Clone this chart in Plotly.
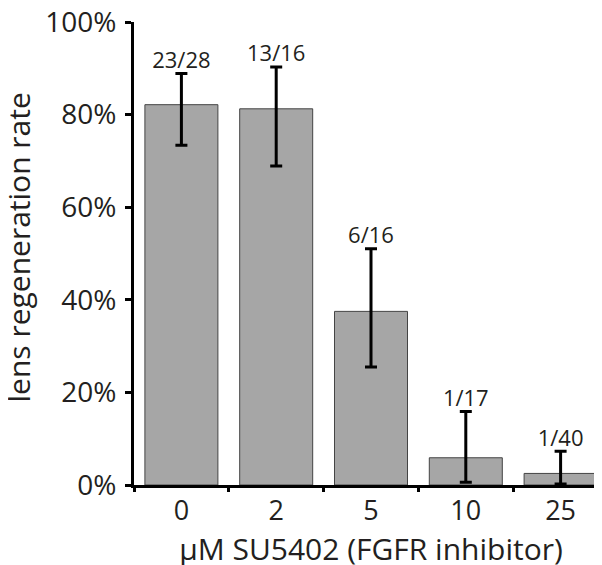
import plotly.graph_objects as go

# concentrations of SU5402 (uM) and regeneration counts
doses = ["0", "2", "5", "10", "25"]
counts = ["23/28", "13/16", "6/16", "1/17", "1/40"]
rates = [23 / 28, 13 / 16, 6 / 16, 1 / 17, 1 / 40]
ci_upper = [0.889, 0.903, 0.51, 0.159, 0.073]
ci_lower = [0.734, 0.689, 0.255, 0.006, 0.002]

err_plus = [u - r for u, r in zip(ci_upper, rates)]
err_minus = [r - l for r, l in zip(rates, ci_lower)]

FONT = "Open Sans, sans-serif"

fig = go.Figure()
fig.add_trace(
    go.Bar(
        x=doses,
        y=rates,
        marker={"color": "#a6a6a6", "line": {"color": "#444444", "width": 1}},
        error_y={
            "type": "data",
            "symmetric": False,
            "array": err_plus,
            "arrayminus": err_minus,
            "color": "black",
            "thickness": 3,
            "width": 6,
        },
        showlegend=False,
    )
)
# n/N labels above the error bars
fig.add_trace(
    go.Scatter(
        x=doses,
        y=ci_upper,
        mode="text",
        text=counts,
        textposition="top center",
        textfont={"size": 22, "color": "#231f20", "family": FONT},
        showlegend=False,
        cliponaxis=False,
    )
)

fig.update_layout(
    width=602,
    height=565,
    margin={"l": 126, "r": 2, "t": 14, "b": 88},
    paper_bgcolor="white",
    plot_bgcolor="white",
    bargap=0.23,
    font={"family": FONT, "color": "#231f20", "size": 28},
    # y title as an annotation so it can sit closer to the page edge
    annotations=[
        {
            "text": "lens regeneration rate",
            "textangle": -90,
            "xref": "paper",
            "yref": "paper",
            "x": 0,
            "y": 0.5,
            "xanchor": "center",
            "yanchor": "middle",
            "xshift": -116,
            "yshift": 6,
            "showarrow": False,
            "font": {"size": 30},
        }
    ],
)
fig.update_xaxes(
    automargin=False,
    showline=True,
    linecolor="black",
    linewidth=3,
    ticks="outside",
    tickson="boundaries",
    ticklen=4,
    tickwidth=3,
    tickcolor="black",
    tickfont={"size": 27},
    title={"text": "µM SU5402 (FGFR inhibitor)", "font": {"size": 30}, "standoff": 0},
)
fig.update_yaxes(
    automargin=False,
    range=[0, 1],
    tickvals=[0, 0.2, 0.4, 0.6, 0.8, 1.0],
    tickformat=".0%",
    ticklabeloverflow="allow",
    ticklabelstandoff=3,
    showline=True,
    linecolor="black",
    linewidth=3,
    ticks="outside",
    ticklen=6,
    tickwidth=3,
    tickcolor="black",
    showgrid=False,
    zeroline=False,
    tickfont={"size": 28},
)

fig.write_html("out.html")
